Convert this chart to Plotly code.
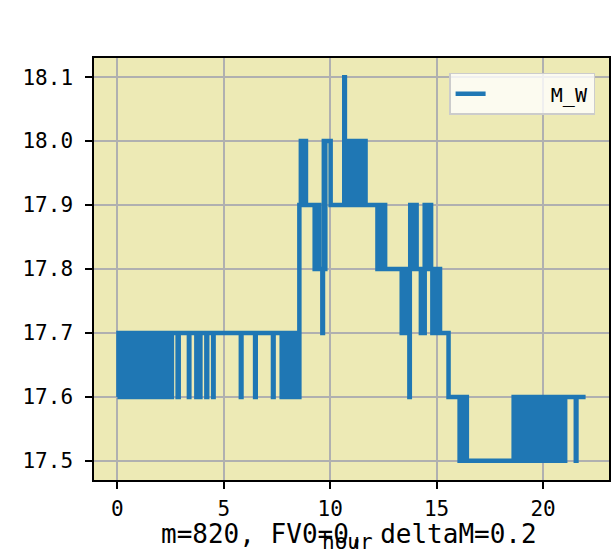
import plotly.graph_objects as go

# ---- data (change points of the M_W series) ----
hours = [
    0.00, 0.05, 0.12, 0.18, 0.25, 0.30, 0.38, 0.44, 0.50, 0.57, 0.63, 0.70,
    0.76, 0.83, 0.90, 0.95, 1.02, 1.08, 1.15, 1.21, 1.28, 1.33, 1.40, 1.47,
    1.53, 1.56, 1.66, 1.73, 1.78, 1.84, 1.88, 1.92, 2.04, 2.10, 2.17, 2.22,
    2.30, 2.34, 2.41, 2.47, 2.52, 2.56,
    2.83, 2.88, 3.36, 3.38, 3.71, 3.90, 4.18, 4.22, 4.50, 4.52,
    5.80, 5.83, 6.47, 6.50, 7.31, 7.34, 7.72, 7.75,
    7.95, 8.00, 8.06, 8.12, 8.18, 8.25, 8.30, 8.36, 8.42, 8.48, 8.52,
    8.55, 8.62, 8.67, 8.72, 8.77, 8.82, 8.86,
    9.27, 9.33, 9.38, 9.44, 9.48,
    9.63, 9.66, 9.70, 9.73, 9.77, 10.02,
    10.66, 10.69, 10.79, 10.86, 10.90, 10.97, 11.02, 11.08, 11.13, 11.20,
    11.26, 11.32, 11.38, 11.45, 11.50, 11.57, 11.62, 11.66,
    12.22, 12.28, 12.34, 12.40, 12.46, 12.52, 12.58,
    13.36, 13.42, 13.48, 13.53, 13.58,
    13.72, 13.74, 13.76, 13.82, 13.88, 13.94, 14.00, 14.06, 14.10,
    14.26, 14.32, 14.38, 14.44, 14.50, 14.56, 14.62, 14.68, 14.74, 14.80,
    14.86, 14.92, 14.98, 15.04, 15.12, 15.16,
    15.56,
    16.08, 16.14, 16.20, 16.26, 16.32, 16.38, 16.42,
    18.62, 18.68, 18.74, 18.80, 18.86, 18.92, 18.98, 19.04, 19.10, 19.16,
    19.22, 19.28, 19.34, 19.40, 19.46, 19.52, 19.58, 19.64, 19.70, 19.76,
    19.82, 19.88, 19.94, 20.00, 20.06, 20.12, 20.18, 20.24, 20.28,
    20.38, 20.44, 20.50, 20.56, 20.62, 20.68, 20.74, 20.80, 20.86, 20.92,
    20.98, 21.04,
    21.54, 21.57, 22.00,
]
m_w = [
    17.6, 17.7, 17.6, 17.7, 17.6, 17.7, 17.6, 17.7, 17.6, 17.7, 17.6, 17.7,
    17.6, 17.7, 17.6, 17.7, 17.6, 17.7, 17.6, 17.7, 17.6, 17.7, 17.6, 17.7,
    17.6, 17.7, 17.6, 17.7, 17.6, 17.7, 17.6, 17.7, 17.6, 17.7, 17.6, 17.7,
    17.6, 17.7, 17.6, 17.7, 17.6, 17.7,
    17.6, 17.7, 17.6, 17.7, 17.6, 17.7, 17.6, 17.7, 17.6, 17.7,
    17.6, 17.7, 17.6, 17.7, 17.6, 17.7, 17.6, 17.7,
    17.6, 17.7, 17.6, 17.7, 17.6, 17.7, 17.6, 17.7, 17.6, 17.7, 17.6,
    17.9, 18.0, 17.9, 18.0, 17.9, 18.0, 17.9,
    17.8, 17.9, 17.8, 17.9, 17.8,
    17.7, 17.8, 18.0, 17.8, 18.0, 17.9,
    18.1, 17.9, 18.0, 17.9, 18.0, 17.9, 18.0, 17.9, 18.0, 17.9,
    18.0, 17.9, 18.0, 17.9, 18.0, 17.9, 18.0, 17.9,
    17.8, 17.9, 17.8, 17.9, 17.8, 17.9, 17.8,
    17.7, 17.8, 17.7, 17.8, 17.7,
    17.6, 17.8, 17.9, 17.8, 17.9, 17.8, 17.9, 17.8, 17.8,
    17.7, 17.8, 17.7, 17.9, 17.8, 17.9, 17.8, 17.9, 17.8, 17.7,
    17.8, 17.7, 17.8, 17.7, 17.8, 17.7,
    17.6,
    17.5, 17.6, 17.5, 17.6, 17.5, 17.6, 17.5,
    17.6, 17.5, 17.6, 17.5, 17.6, 17.5, 17.6, 17.5, 17.6, 17.5,
    17.6, 17.5, 17.6, 17.5, 17.6, 17.5, 17.6, 17.5, 17.6, 17.5,
    17.6, 17.5, 17.6, 17.5, 17.6, 17.5, 17.6, 17.5, 17.6,
    17.5, 17.6, 17.5, 17.6, 17.5, 17.6, 17.5, 17.6, 17.5, 17.6,
    17.5, 17.6,
    17.5, 17.6, 17.6,
]

x_ticks = [0, 5, 10, 15, 20]
y_ticks = [17.5, 17.6, 17.7, 17.8, 17.9, 18.0, 18.1]
y_tick_labels = ["17.5", "17.6", "17.7", "17.8", "17.9", "18.0", "18.1"]
x_label = "hour"
title_text = "m=820, FV0=0, deltaM=0.2"
series_name = "M_W"

FONT = "DejaVu Sans Mono"

fig = go.Figure()
fig.add_trace(go.Scatter(
    x=hours, y=m_w, mode="lines",
    line=dict(color="#1f77b4", width=4.5, shape="hv"),
    name="\u00a0" * 5 + series_name,
))

axis_common = dict(
    showline=True, linecolor="black", linewidth=1.5, mirror=True,
    ticks="outside", ticklen=7, tickwidth=1.5, tickcolor="black",
    showgrid=True, gridcolor="#b0b0b0", gridwidth=1.5, zeroline=False,
    tickfont=dict(family=FONT, size=21, color="black"),
)

fig.update_xaxes(range=[-1.1, 23.1], tickmode="array", tickvals=x_ticks,
                 ticklabelstandoff=2, **axis_common)
fig.update_yaxes(range=[17.47, 18.13], tickmode="array", tickvals=y_ticks,
                 ticktext=y_tick_labels, ticklabelstandoff=8, **axis_common)

fig.add_annotation(text=x_label, xref="paper", yref="paper", x=0.492, y=-0.148,
                   xanchor="center", yanchor="middle", showarrow=False,
                   font=dict(family=FONT, size=21, color="black"))
fig.add_annotation(text=title_text, xref="paper", yref="paper", x=0.495, y=-0.128,
                   xanchor="center", yanchor="middle", showarrow=False,
                   font=dict(family=FONT, size=26, color="black"))

fig.update_layout(
    width=616, height=555,
    margin=dict(l=94, r=5, t=58, b=75),
    paper_bgcolor="white", plot_bgcolor="#EDEAB5",
    showlegend=True,
    legend=dict(x=0.973, y=0.965, xanchor="right", yanchor="top",
                bgcolor="rgba(255,255,255,0.8)", bordercolor="#cccccc",
                borderwidth=1.5,
                font=dict(family=FONT, size=20, color="black")),
)

fig.write_html("out.html",
               config={"displayModeBar": False},
               post_script="document.body.style.margin='0';document.body.style.overflow='hidden';")
